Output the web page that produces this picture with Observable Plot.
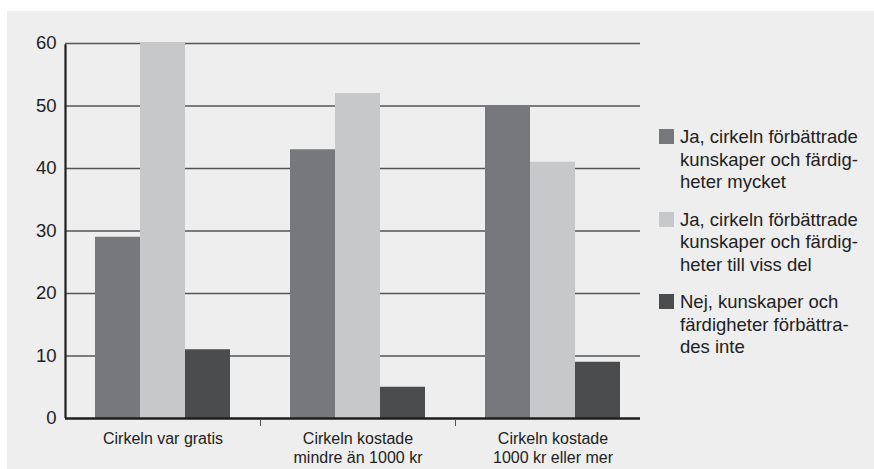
<!DOCTYPE html>
<html>
<head>
<meta charset="utf-8">
<script src="https://cdn.jsdelivr.net/npm/d3@7"></script>
<script src="https://cdn.jsdelivr.net/npm/@observablehq/plot@0.6"></script>
<style>
  html, body { margin: 0; padding: 0; background: #ffffff; }
  body { width: 874px; height: 469px; position: relative; overflow: hidden; font-family: "Liberation Sans", Arial, sans-serif; }
  #bg { position: absolute; left: 7px; top: 11px; width: 867px; height: 458px; background: #eeeeee; }
  #chart { position: absolute; left: 0; top: 0; }
  #legend { position: absolute; left: 659px; top: 126px; color: #222; font-size: 18.5px; line-height: 22.5px; }
  .item { display: flex; align-items: flex-start; margin-bottom: 15px; }
  .sw { width: 15px; height: 15px; margin-top: 3px; flex: none; }
  .lbl { margin-left: 6px; white-space: nowrap; }
</style>
</head>
<body>
<div id="bg"></div>
<div id="chart"></div>
<div id="legend"></div>
<script>
// ---- data ----
const groups = ["Cirkeln var gratis", "Cirkeln kostade mindre än 1000 kr", "Cirkeln kostade 1000 kr eller mer"];
const groupLabels = ["Cirkeln var gratis", "Cirkeln kostade\nmindre än 1000 kr", "Cirkeln kostade\n1000 kr eller mer"];
const series = [
  "Ja, cirkeln förbättrade kunskaper och färdigheter mycket",
  "Ja, cirkeln förbättrade kunskaper och färdigheter till viss del",
  "Nej, kunskaper och färdigheter förbättrades inte"
];
const legendLines = [
  ["Ja, cirkeln förbättrade", "kunskaper och färdig-", "heter mycket"],
  ["Ja, cirkeln förbättrade", "kunskaper och färdig-", "heter till viss del"],
  ["Nej, kunskaper och", "färdigheter förbättra-", "des inte"]
];
const valuesMycket = [29, 43, 50];
const valuesVissDel = [60, 52, 41];
const valuesInte = [11, 5, 9];
const yTicks = [0, 10, 20, 30, 40, 50, 60];
const colors = ["#77787c", "#c7c8ca", "#4b4c4e"];

// ---- layout ----
const W = 660, H = 469;
const mL = 65, mR = 10, mT = 43, mB = 51;
const groupW = (W - mL - mR) / groups.length;
const lastGroup = groups[groups.length - 1];

const seriesValues = [valuesMycket, valuesVissDel, valuesInte];
const table = [];
groups.forEach((g, gi) => series.forEach((s, si) => table.push({group: g, series: s, value: seriesValues[si][gi]})));

const grid = groups.flatMap(g => yTicks.filter(t => t > 0).map(t => ({g, t})));
const base = groups.map(g => ({g, t: 0}));

const plot = Plot.plot({
  width: W,
  height: H,
  marginLeft: mL,
  marginRight: mR,
  marginTop: mT,
  marginBottom: mB,
  style: {background: "transparent", fontFamily: "Liberation Sans, Arial, sans-serif", color: "#222", overflow: "visible"},
  fx: {domain: groups, padding: 0, axis: null},
  x: {domain: series, paddingInner: 0, paddingOuter: 0.633, axis: null},
  y: {domain: [0, 60], axis: null},
  color: {domain: series, range: colors},
  marks: [
    Plot.ruleY(grid.filter(d => d.g !== lastGroup), {fx: "g", y: "t", stroke: "#555", strokeWidth: 1.5}),
    Plot.ruleY(grid.filter(d => d.g === lastGroup), {fx: "g", y: "t", stroke: "#555", strokeWidth: 1.5, insetRight: 10}),
    Plot.barY(table, {fx: "group", x: "series", y: "value", fill: "series"}),
    Plot.ruleY(base.filter(d => d.g !== lastGroup), {fx: "g", y: "t", stroke: "#1e1e1e", strokeWidth: 2.6}),
    Plot.ruleY(base.filter(d => d.g === lastGroup), {fx: "g", y: "t", stroke: "#1e1e1e", strokeWidth: 2.6, insetRight: 10}),
    Plot.ruleX([groups[0]], {fx: d => d, x: null, y1: 0, y2: 60, dx: -groupW / 2, stroke: "#1e1e1e", strokeWidth: 2.2, insetBottom: -1.3}),
    Plot.ruleX(groups.slice(1), {fx: d => d, x: null, y1: 0, y2: 0, dx: -groupW / 2, stroke: "#555", strokeWidth: 1, insetTop: 1, insetBottom: -8}),
    Plot.axisY({ticks: yTicks, tickSize: 0, tickPadding: 9, fontSize: 18.5, fill: "#222"}),
    Plot.text(groups, {fx: d => d, text: d => groupLabels[groups.indexOf(d)], frameAnchor: "bottom", lineAnchor: "top", dy: 11.5, fontSize: 16, lineHeight: 1.19, fill: "#222"})
  ]
});
document.getElementById("chart").appendChild(plot);

// ---- legend ----
const legend = d3.select("#legend");
series.forEach((s, i) => {
  const item = legend.append("div").attr("class", "item");
  item.append("div").attr("class", "sw").style("background", colors[i]);
  item.append("div").attr("class", "lbl").html(legendLines[i].join("<br>"));
});
</script>
</body>
</html>
